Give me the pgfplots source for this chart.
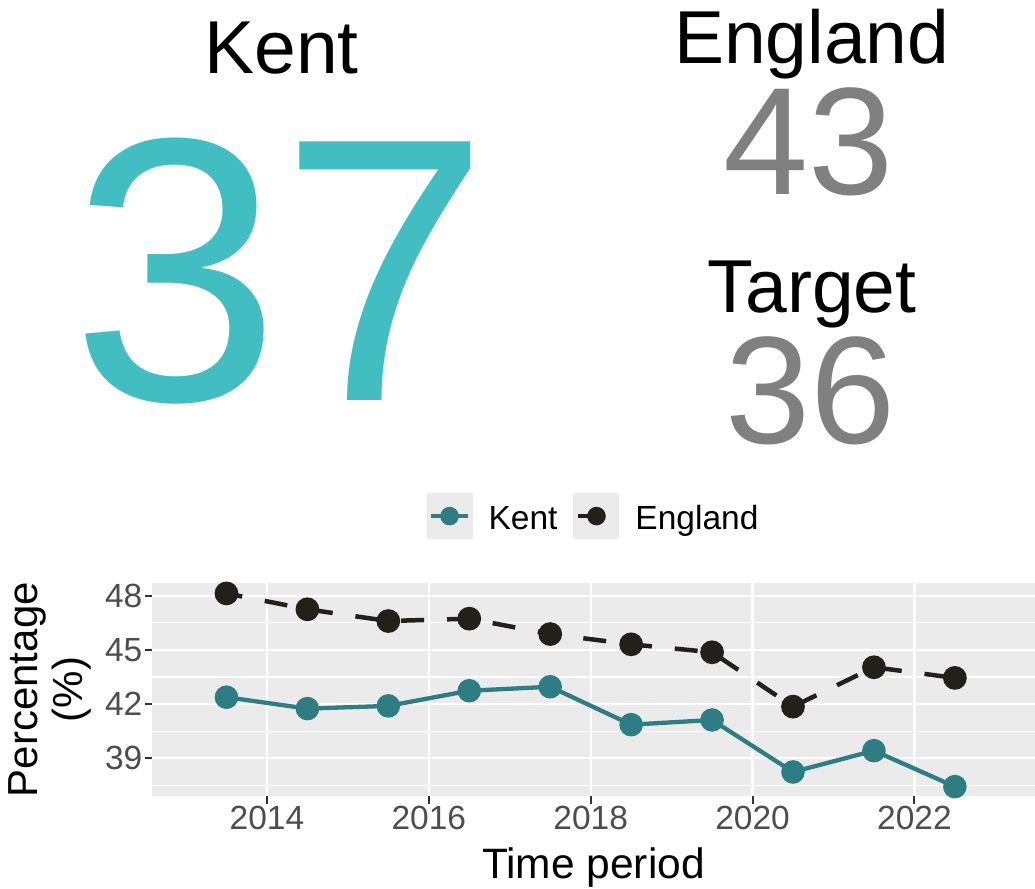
\documentclass[border=0pt]{standalone}
\usepackage{pgfplots}
\pgfplotsset{compat=1.18}
\usepackage{fontspec}
\setmainfont{Liberation Sans}
\definecolor{kentline}{HTML}{2E7D82}
\definecolor{kentbig}{HTML}{42BEC2}
\definecolor{engl}{HTML}{222019}
\definecolor{numgray}{HTML}{808080}
\definecolor{panel}{HTML}{EBEBEB}
\definecolor{ticklab}{HTML}{4D4D4D}
\definecolor{tickcol}{HTML}{333333}
\newcommand\fs[1]{\fontsize{#1pt}{#1pt}\selectfont}

\pgfplotstableread{
x y
2013.5 42.38
2014.5 41.75
2015.5 41.90
2016.5 42.74
2017.5 42.96
2018.5 40.86
2019.5 41.12
2020.5 38.24
2021.5 39.42
2022.5 37.43
}\kent
\pgfplotstableread{
x y
2013.5 48.13
2014.5 47.25
2015.5 46.60
2016.5 46.73
2017.5 45.88
2018.5 45.31
2019.5 44.87
2020.5 41.86
2021.5 44.04
2022.5 43.45
}\england

\begin{document}
\begin{tikzpicture}
\node[anchor=base, inner sep=0pt] at (281.7pt,814pt) {\fs{75}Kent};
\node[anchor=base, inner sep=0pt, text=kentbig] at (280.2pt,487pt) {\fs{376}37};
\node[anchor=base, inner sep=0pt] at (811.7pt,824.7pt) {\fs{75}England};
\node[anchor=base, inner sep=0pt, text=numgray] at (809pt,693pt) {\fs{153}43};
\node[anchor=base, inner sep=0pt] at (812pt,575.3pt) {\fs{75}Target};
\node[anchor=base, inner sep=0pt, text=numgray] at (811pt,444.5pt) {\fs{153}36};

\begin{axis}[
  at={(152pt,92pt)}, anchor=south west,
  scale only axis, width=883pt, height=212.7pt,
  xmin=2012.58, xmax=2023.49, ymin=36.91, ymax=48.69,
  axis background/.style={fill=panel},
  axis line style={draw=none},
  xtick={2014,2016,2018,2020,2022}, xticklabels={2014,2016,2018,2020,2022},
  ytick={39,42,45,48}, yticklabels={39,42,45,48},
  minor ytick={37.5,40.5,43.5,46.5},
  grid=both,
  major grid style={white, line width=2.2pt},
  minor grid style={white, line width=1.1pt},
  tick align=outside, tick pos=left,
  major tick length=7.5pt, minor tick length=0pt,
  tick style={tickcol, line width=2pt},
  tick label style={font=\fs{33.5}, text=ticklab, inner sep=2pt},
  xlabel={Time period},
  xlabel style={at={(axis description cs:0.5,-0.3869)}, anchor=base, font=\fs{42.5}, inner sep=0pt},
  ylabel={Percentage\\(\%)},
  ylabel style={at={(axis description cs:-0.1159,0.5)}, anchor=center, align=center, font=\fontsize{42pt}{44.6pt}\selectfont, inner sep=0pt},
  legend columns=2,
  legend style={at={(axis description cs:0.5,1)}, anchor=south, yshift=44pt, draw=none, fill=none, inner sep=0pt, column sep=14pt, font=\fs{33.5}, cells={anchor=base west, inner sep=0pt}},
]
\addplot[kentline, line width=4.3pt, mark=*, mark size=9.6pt, mark options={fill=kentline, draw=none},
  legend image code/.code={
    \path[fill=panel, draw=none] (0pt,-10pt) rectangle (46pt,36pt);
    \draw[kentline, line width=4.3pt, solid] (4.6pt,13pt) -- (41.4pt,13pt);
    \path[fill=kentline, draw=none] (23pt,13pt) circle (9.3pt);
  }] table[x=x,y=y] {\kent};
\addlegendentry{Kent}
\addplot[engl, line width=4.5pt, dash pattern=on 23pt off 23pt, dash phase=7pt, mark=*, mark size=9.6pt, mark options={solid, fill=engl, draw=none},
  legend image code/.code={
    \path[fill=panel, draw=none] (0pt,-10pt) rectangle (46pt,36pt);
    \draw[engl, line width=4.5pt, dash pattern=on 23pt off 23pt, dash phase=0pt] (4.6pt,13pt) -- (41.4pt,13pt);
    \path[fill=engl, draw=none] (23pt,13pt) circle (9.3pt);
  }] table[x=x,y=y] {\england};
\addlegendentry{England}
\end{axis}
\pgfresetboundingbox
\path[use as bounding box] (0pt,0pt) rectangle (1035pt,888pt);
\end{tikzpicture}
\end{document}
